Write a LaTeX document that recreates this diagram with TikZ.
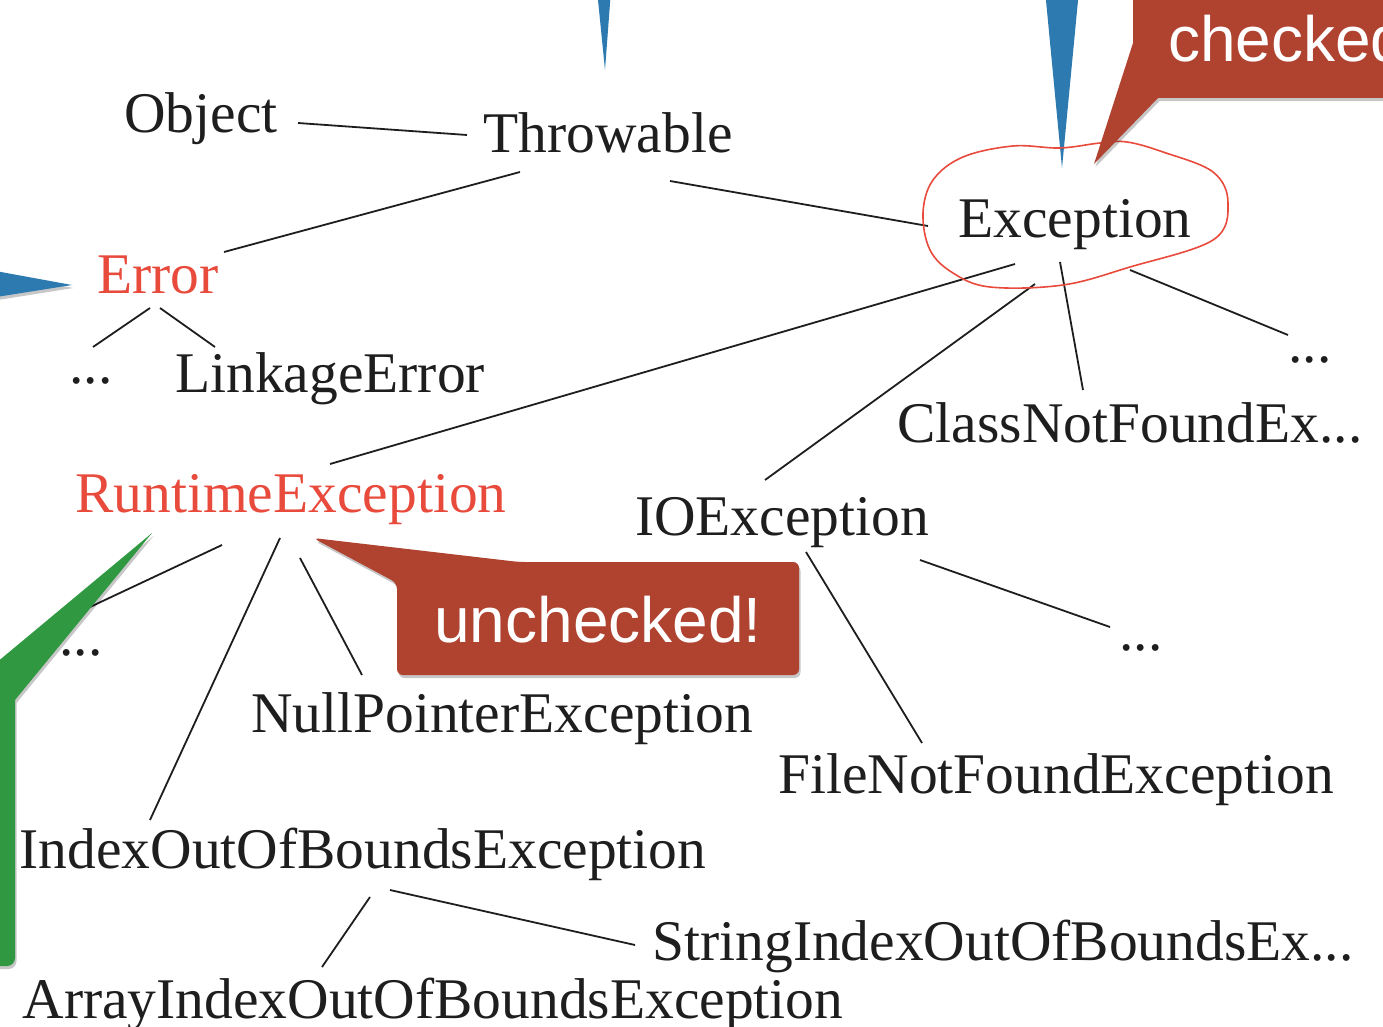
\documentclass[tikz,border=0pt]{standalone}
\usepackage{fontspec}
\setmainfont{Liberation Serif}
\newfontfamily\calloutfont{Liberation Sans}
\usetikzlibrary{calc}
\definecolor{txtred}{RGB}{232,74,60}
\definecolor{callred}{RGB}{176,66,48}
\definecolor{callblue}{RGB}{44,122,176}
\definecolor{callgreen}{RGB}{48,152,64}
\definecolor{ink}{RGB}{30,30,30}
\begin{document}
\begin{tikzpicture}[x=1pt,y=-1pt,
  cls/.style={anchor=base,inner sep=0pt,font=\fontsize{57.5}{60}\selectfont,text=ink},
  redcls/.style={cls,text=txtred},
  edge/.style={draw=ink,line width=1.8pt},
  calltext/.style={inner sep=0pt,text=white,font=\calloutfont\fontsize{64}{66}\selectfont},
  shadowed/.style={preaction={fill=black,opacity=0.22,transform canvas={shift={(1.5pt,-3pt)}}}}]
\path[use as bounding box] (0,0) rectangle (1383,1027);
\fill[white] (0,0) rectangle (1383,1027);
\clip (0,0) rectangle (1383,1027);

% class nodes
\node[cls] (obj) at (201,133) {Object};
\node[cls] (thr) at (608,153) {Throwable};
\node[cls] (exc) at (1075,237) {Exception};
\node[redcls] (err) at (158,293) {Error};
\node[cls] (d1) at (91,383) {...};
\node[cls] (link) at (330,392) {LinkageError};
\node[cls] (d2) at (1310,362) {...};
\node[cls] (cnf) at (1130,442) {ClassNotFoundEx...};
\node[redcls] (rt) at (291,512) {RuntimeException};
\node[cls] (io) at (782,535) {IOException};
\node[cls] (d3) at (81,655) {...};
\node[cls] (npe) at (502,732) {NullPointerException};
\node[cls] (d4) at (1141,650) {...};
\node[cls] (fnf) at (1056,793) {FileNotFoundException};
\node[cls] (ioob) at (363,868) {IndexOutOfBoundsException};
\node[cls] (sioob) at (1003,960) {StringIndexOutOfBoundsEx...};
\node[cls] (aioob) at (433,1018) {ArrayIndexOutOfBoundsException};

% edges
\draw[edge] ($(obj.base)+(97,-10)$) -- ($(thr.base)+(-141,-18)$);
\draw[edge] ($(thr.base)+(-88,19)$) -- ($(err.base)+(66,-41)$);
\draw[edge] ($(thr.base)+(62,28)$) -- ($(exc.base)+(-147,-11)$);
\draw[edge] ($(err.base)+(-8,15)$) -- ($(d1.base)+(2,-36)$);
\draw[edge] ($(err.base)+(2,15)$) -- ($(link.base)+(-115,-45)$);
\draw[edge] ($(exc.base)+(-60,27)$) -- ($(rt.base)+(39,-48)$);
\draw[edge] ($(exc.base)+(-40,47)$) -- ($(io.base)+(-17,-55)$);
\draw[edge] ($(exc.base)+(-15,25)$) -- ($(cnf.base)+(-47,-52)$);
\draw[edge] ($(exc.base)+(55,33)$) -- ($(d2.base)+(-22,-27)$);
\draw[edge] ($(rt.base)+(-69,33)$) -- ($(d3.base)+(9,-48)$);
\draw[edge] ($(rt.base)+(-11,26)$) -- ($(ioob.base)+(-213,-48)$);
\draw[edge] ($(rt.base)+(9,46)$) -- ($(npe.base)+(-140,-57)$);
\draw[edge] ($(io.base)+(24,17)$) -- ($(fnf.base)+(-134,-50)$);
\draw[edge] ($(io.base)+(138,25)$) -- ($(d4.base)+(-31,-23)$);
\draw[edge] ($(ioob.base)+(7,29)$) -- ($(aioob.base)+(-111,-51)$);
\draw[edge] ($(ioob.base)+(27,22)$) -- ($(sioob.base)+(-368,-15)$);

% blue pointers
\fill[callblue] (597,-10) -- (611,-10) -- (605,70) -- cycle;
\fill[callblue] (1045,-10) -- (1079,-10) -- (1062,168) -- cycle;
\fill[callblue, shadowed] (-10,270) -- (72,285) -- (-10,298) -- cycle;

% red hand-drawn loop around Exception
\draw[txtred, line width=1.6pt] plot[smooth cycle, tension=0.6] coordinates {
  (923,213) (933,180) (963,157) (1013,146) (1060,148) (1100,143) (1127,142)
  (1163,152) (1213,172) (1228,203) (1213,240) (1130,267) (1063,285)
  (990,287) (953,273) (930,250)};

% checked callout
\fill[callred, shadowed] (1133,-10) -- (1133,43) -- (1094,164) -- (1158,98)
  -- (1393,98) -- (1393,-10) -- cycle;
\node[calltext, anchor=base west] (chk) at (1168,62) {checked!};

% unchecked callout
\fill[callred, shadowed, rounded corners=6pt] (397,583) -- (313,538) -- (519,562)
  -- (799,562) -- (799,675) -- (397,675) -- cycle;
\node[calltext] (unc) at (598,620) {unchecked!};

% green callout
\fill[callgreen, shadowed] (-10,668) -- (152,533) -- (15,700) [rounded corners=8pt]
  -- (15,966) -- (-10,966) -- cycle;
\end{tikzpicture}
\end{document}
